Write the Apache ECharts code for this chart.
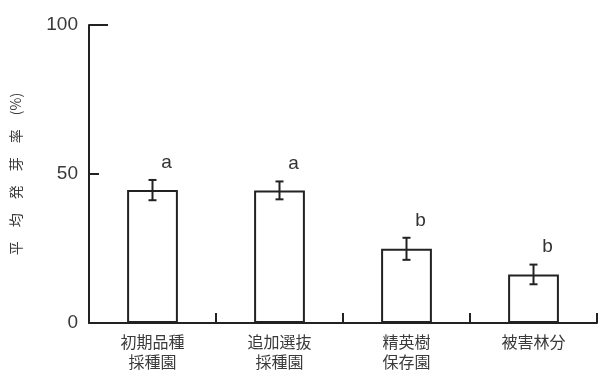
<!DOCTYPE html>
<html><head><meta charset="utf-8">
<script src="https://cdn.jsdelivr.net/npm/echarts@6/dist/echarts.min.js"></script>
<style>html,body{margin:0;padding:0;background:#fff}#c{width:599px;height:375px}</style>
</head><body><div id="c"></div>
<script>
const categories = ['初期品種\n採種園', '追加選抜\n採種園', '精英樹\n保存園', '被害林分'];
const means = [44.6, 44.5, 24.9, 16.3];
const errors = [3.4, 3.0, 3.7, 3.3];
const letters = ['a', 'a', 'b', 'b'];
const yTicks = [0, 50, 100];

const ink = '#222';
const chart = echarts.init(document.getElementById('c'));
chart.setOption({
  animation: false,
  grid: {left: 89, right: 2, top: 25, bottom: 52},
  xAxis: {
    type: 'category', data: categories,
    axisLine: {lineStyle: {color: ink, width: 2}},
    axisTick: {show: true, inside: true, length: 10, lineStyle: {color: ink, width: 2}},
    axisLabel: {color: '#3a3a3a', fontSize: 16, lineHeight: 20, margin: 9, fontFamily: 'Noto Sans CJK JP'}
  },
  yAxis: [{
    type: 'value', min: 0, max: 100, interval: 50,
    name: '平　均　発　芽　率　(%)', nameLocation: 'middle', nameGap: 66, nameRotate: 90,
    nameTextStyle: {color: '#3a3a3a', fontSize: 14, fontFamily: 'Noto Sans CJK JP'},
    axisLine: {show: true, lineStyle: {color: ink, width: 2}},
    axisTick: {show: true, inside: true, length: 10, lineStyle: {color: ink, width: 2}},
    axisLabel: {color: '#3a3a3a', fontSize: 19, margin: 11, fontFamily: 'Liberation Sans',
      formatter: v => yTicks.includes(v) ? String(v) : ''},
    splitLine: {show: false}
  }, {
    type: 'value', min: 0, max: 100, interval: 100, position: 'left',
    axisLine: {show: false},
    axisTick: {show: true, inside: true, length: 19, lineStyle: {color: ink, width: 2}},
    axisLabel: {show: false}, splitLine: {show: false}
  }],
  series: [
    {type: 'bar', data: means, barWidth: '40%',
     itemStyle: {color: '#fff', borderColor: ink, borderWidth: 2}},
    {type: 'custom', data: means.map((m, i) => [i, m, errors[i]]),
     renderItem: (params, api) => {
       const i = api.value(0), m = api.value(1), e = api.value(2);
       const top = api.coord([i, m + e]);
       const bot = api.coord([i, m - e]);
       const x = top[0];
       return {type: 'group', children: [
         {type: 'line', shape: {x1: x, y1: top[1], x2: x, y2: bot[1]}, style: {stroke: ink, lineWidth: 2}},
         {type: 'line', shape: {x1: x - 4, y1: top[1], x2: x + 4, y2: top[1]}, style: {stroke: ink, lineWidth: 2}},
         {type: 'line', shape: {x1: x - 4, y1: bot[1], x2: x + 4, y2: bot[1]}, style: {stroke: ink, lineWidth: 2}},
         {type: 'text', style: {text: letters[i], x: x + 14, y: top[1] - 8, fill: '#333', fontSize: 19,
           fontFamily: 'Liberation Sans', align: 'center', verticalAlign: 'bottom'}}
       ]};
     }, z: 5}
  ]
});
</script></body></html>
